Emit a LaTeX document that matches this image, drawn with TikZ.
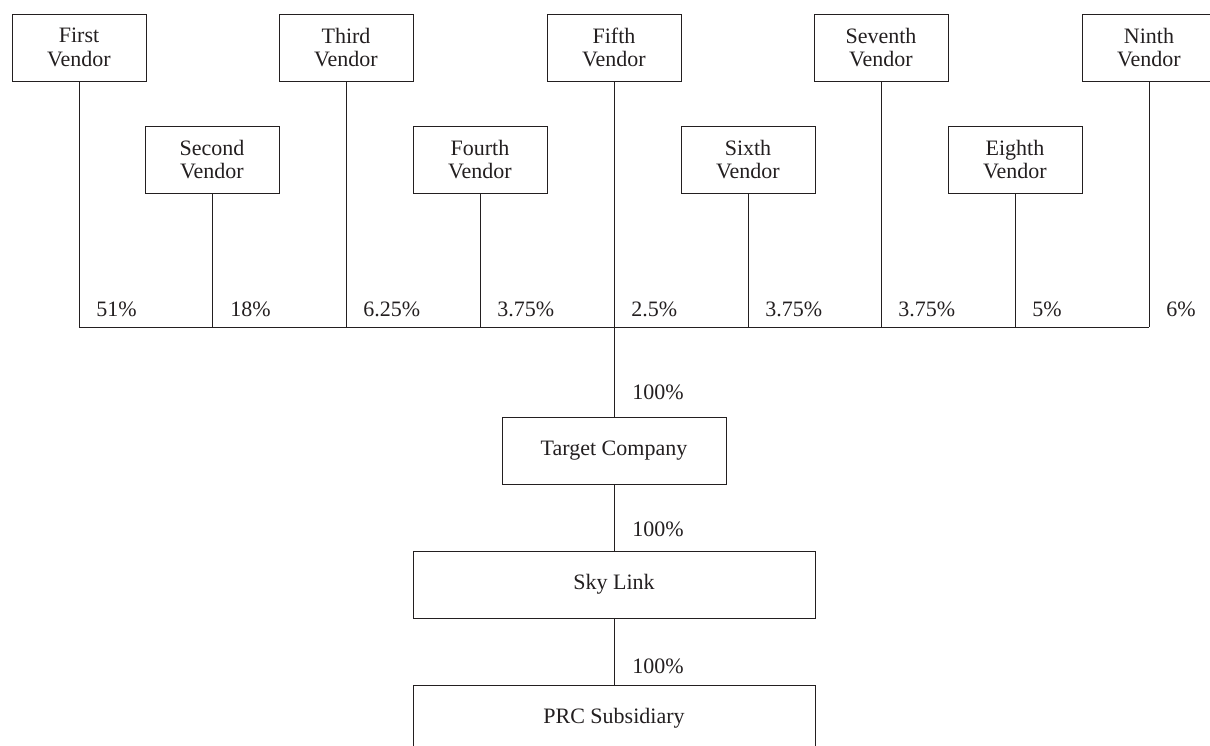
\documentclass[tikz,border=0pt]{standalone}
\usepackage{fontspec}
\setmainfont{Liberation Serif}
\begin{document}
\begin{tikzpicture}[x=1pt,y=-1pt,
  line width=0.9pt, draw={rgb,255:red,35;green,31;blue,32},
  font=\fontsize{22}{23.5}\selectfont,
  vbox/.style={draw, minimum width=134pt, minimum height=67pt, inner sep=0pt, align=center, text={rgb,255:red,35;green,31;blue,32}},
  cbox/.style={draw, minimum height=67pt, inner sep=0pt, text={rgb,255:red,35;green,31;blue,32}},
  pct/.style={anchor=base west, inner sep=0pt, text={rgb,255:red,35;green,31;blue,32}},
  conn/.style={draw}]
\useasboundingbox (0,0) rectangle (1210,746);
% top row
\node[vbox] (v1) at (79,47.5) {First\\Vendor};
\node[vbox] (v3) at (346,47.5) {Third\\Vendor};
\node[vbox] (v5) at (614,47.5) {Fifth\\Vendor};
\node[vbox] (v7) at (881,47.5) {Seventh\\Vendor};
\node[vbox] (v9) at (1149,47.5) {Ninth\\Vendor};
% lower row
\node[vbox] (v2) at (212,159.5) {Second\\Vendor};
\node[vbox] (v4) at (480,159.5) {Fourth\\Vendor};
\node[vbox] (v6) at (748,159.5) {Sixth\\Vendor};
\node[vbox] (v8) at (1015,159.5) {Eighth\\Vendor};
% companies
\node[cbox, minimum width=224pt] (tc) at (614,450.5) {Target Company};
\node[cbox, minimum width=402pt] (sl) at (614,584.5) {Sky Link};
\node[cbox, minimum width=402pt] (prc) at (614,718.5) {PRC Subsidiary};
% bar coordinates
\foreach \i/\x in {1/79,2/212,3/346,4/480,5/614,6/748,7/881,8/1015,9/1149}
  \coordinate (b\i) at (\x,327);
\foreach \i in {1,2,3,4,6,7,8,9}
  \draw[conn] (v\i.south) -- (b\i);
\draw[conn] (b1) -- (b9);
\draw[conn] (v5.south) -- (tc.north);
\draw[conn] (tc.south) -- (sl.north);
\draw[conn] (sl.south) -- (prc.north);
% percentages
\node[pct] (p1) at (96,316) {51\%};
\node[pct] (p2) at (230,316) {18\%};
\node[pct] (p3) at (363,316) {6.25\%};
\node[pct] (p4) at (497,316) {3.75\%};
\node[pct] (p5) at (631,316) {2.5\%};
\node[pct] (p6) at (765,316) {3.75\%};
\node[pct] (p7) at (898,316) {3.75\%};
\node[pct] (p8) at (1032,316) {5\%};
\node[pct] (p9) at (1166,316) {6\%};
\node[pct] (q1) at (632,399) {100\%};
\node[pct] (q2) at (632,536) {100\%};
\node[pct] (q3) at (632,673) {100\%};
\end{tikzpicture}
\end{document}
